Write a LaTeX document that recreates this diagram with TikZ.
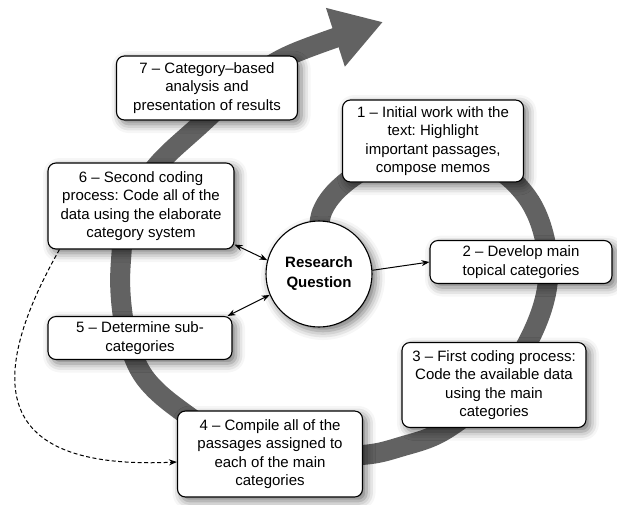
\documentclass[tikz,border=0pt]{standalone}
\usepackage{fontspec}
\setmainfont{Liberation Sans}
\frenchspacing
\usetikzlibrary{arrows.meta, shadows.blur, positioning}
\definecolor{spiralgrey}{RGB}{98,98,98}

\begin{document}
\begin{tikzpicture}[
        stepbox/.style={draw, line width=1.1pt, rounded corners=8pt, fill=white, align=center, inner sep=2pt,
            font=\fontsize{15}{18.3}\selectfont,
            blur shadow={shadow xshift=4pt, shadow yshift=-4pt, shadow blur radius=9pt, shadow opacity=55}},
        questionnode/.style={draw, circle, line width=1.1pt, fill=white, align=center, inner sep=0pt, minimum size=106pt,
            font=\bfseries\fontsize{15}{20}\selectfont,
            blur shadow={shadow xshift=4pt, shadow yshift=-4pt, shadow blur radius=9pt, shadow opacity=55}},
        linkarrow/.style={line width=1pt, -{Stealth[length=8pt, width=6pt]}},
        bilinkarrow/.style={line width=1pt, {Stealth[length=8pt, width=6pt]}-{Stealth[length=8pt, width=6pt]}},
    ]
    \begin{scope}[x=1pt, y=-1pt]
        \useasboundingbox (0,0) rectangle (617,504);

        % grey spiral behind the steps
        \draw [line width=20pt, color=spiralgrey, -{Triangle[length=50pt, width=58pt]}]
            plot [smooth, tension=0.6] coordinates {(318,250) (322,212) (345,183) (385,160) (433,152) (490,165)
                (527,197) (545,240) (547,288) (530,338) (497,388) (445,430) (400,447) (362,455) (300,455)
                (230,440) (180,410) (145,378) (128,340) (121,300) (121,260) (128,215) (155,168) (200,125)
                (245,85) (290,55) (383,22)};

        \node (rq) [questionnode] at (319,274) {Research\\Question};

        \node (step1) [stepbox, minimum width=181pt, minimum height=82pt] at (433,141)
            {1 -- Initial work with the\\text: Highlight\\important passages,\\compose memos};
        \node (step2) [stepbox, minimum width=182pt, minimum height=43pt] at (521,262)
            {2 -- Develop main\\topical categories};
        \node (step3) [stepbox, minimum width=184pt, minimum height=85pt] at (494,385)
            {3 -- First coding process:\\Code the available data\\using the main\\categories};
        \node (step4) [stepbox, minimum width=185pt, minimum height=86pt] at (270,454)
            {4 -- Compile all of the\\passages assigned to\\each of the main\\categories};
        \node (step5) [stepbox, minimum width=184pt, minimum height=43pt] at (140,338)
            {5 -- Determine sub-\\categories};
        \node (step6) [stepbox, minimum width=186pt, minimum height=86pt] at (141,206)
            {6 -- Second coding\\process: Code all of the\\data using the elaborate\\category system};
        \node (step7) [stepbox, minimum width=181pt, minimum height=64pt] at (207,88)
            {7 -- Category--based\\analysis and\\presentation of results};

        \draw [linkarrow] (rq.4) -- (step2.west);
        \draw [bilinkarrow] (rq.165) -- ([yshift=5pt]step6.south east);
        \draw [bilinkarrow] (rq.203) -- ([xshift=-5pt]step5.north east);
        \draw [linkarrow, dash pattern=on 4pt off 2.5pt] ([xshift=12pt]step6.south west)
            .. controls (-20,390) and (0,470) .. ([yshift=-8pt]step4.west);
    \end{scope}
\end{tikzpicture}
\end{document}
